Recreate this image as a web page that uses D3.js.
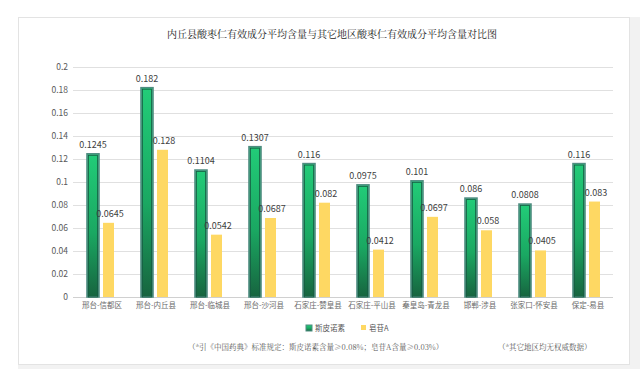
<!DOCTYPE html>
<html><head><meta charset="utf-8">
<script src="https://cdn.jsdelivr.net/npm/d3@7/dist/d3.min.js"></script>
<style>body{margin:0;background:#fff;}svg{display:block;}</style>
</head><body>
<script>
const categories = ["邢台-信都区","邢台-内丘县","邢台-临城县","邢台-沙河县","石家庄-赞皇县","石家庄-平山县","秦皇岛-青龙县","邯郸-涉县","张家口-怀安县","保定-易县"];
const spinosin = [0.1245,0.182,0.1104,0.1307,0.116,0.0975,0.101,0.086,0.0808,0.116];
const saponinA = [0.0645,0.128,0.0542,0.0687,0.082,0.0412,0.0697,0.058,0.0405,0.083];
const yTicks = [0,0.02,0.04,0.06,0.08,0.1,0.12,0.14,0.16,0.18,0.2];
const seriesNames = ["斯皮诺素","皂苷A"];
const title = "内丘县酸枣仁有效成分平均含量与其它地区酸枣仁有效成分平均含量对比图";
const note1 = "（*引《中国药典》标准规定：斯皮诺素含量≥0.08%；皂苷A含量≥0.03%）";
const note2 = "（*其它地区均无权威数据）";

const W=640,H=369;
const font = "'Noto Sans CJK SC','Noto Sans',sans-serif";
const svg = d3.select("body").append("svg").attr("width",W).attr("height",H);

// frame
svg.append("rect").attr("x",0).attr("y",0).attr("width",W).attr("height",H).attr("fill","#fff");
svg.append("rect").attr("x",630).attr("y",17).attr("width",10).attr("height",352).attr("fill","#f2f2f2");
svg.append("rect").attr("x",18).attr("y",365).attr("width",622).attr("height",4).attr("fill","#f2f2f2");
svg.append("rect").attr("x",18.5).attr("y",17.5).attr("width",611).attr("height",347)
  .attr("fill","#fff").attr("stroke","#e3e3e3").attr("stroke-width",1);

const defs = svg.append("defs");
const g1 = defs.append("linearGradient").attr("id","gGreen").attr("x1",0).attr("y1",0).attr("x2",0).attr("y2",1);
g1.append("stop").attr("offset","0%").attr("stop-color","#22cc78");
g1.append("stop").attr("offset","55%").attr("stop-color","#1aa862");
g1.append("stop").attr("offset","100%").attr("stop-color","#17643f");

svg.append("text").attr("x",332).attr("y",38).attr("text-anchor","middle")
  .attr("font-family","'Noto Serif CJK SC','Noto Sans CJK SC',serif").attr("font-size",10)
  .attr("fill","#1a1a1a").text(title);

const x0 = d3.scaleBand().domain(categories).range([73,613]).paddingInner(0).paddingOuter(0);
const y = d3.scaleLinear().domain([0,0.2]).range([297,67]);

// gridlines
svg.append("g").selectAll("line").data(yTicks.slice(1)).join("line")
  .attr("x1",73).attr("x2",613).attr("y1",d=>Math.round(y(d))+0.5).attr("y2",d=>Math.round(y(d))+0.5)
  .attr("stroke","#e0e0e0").attr("stroke-width",1);

// y axis labels
const yAxis = d3.axisLeft(y).tickValues(yTicks).tickSize(0).tickPadding(0).tickFormat(d=>String(+d.toFixed(2)));
const ya = svg.append("g").attr("transform","translate(68,0)").call(yAxis);
ya.select(".domain").remove();
ya.selectAll("text").attr("font-family",font).attr("font-size",8.5).attr("fill","#595959");

// x baseline
svg.append("line").attr("x1",73).attr("x2",613).attr("y1",297.5).attr("y2",297.5).attr("stroke","#d0d0d0");

// x axis labels
const xAxis = d3.axisBottom(x0).tickSize(0).tickPadding(0);
const xa = svg.append("g").attr("transform","translate(2,303)").call(xAxis);
xa.select(".domain").remove();
xa.selectAll("text").attr("font-family",font).attr("font-size",7.5).attr("fill","#6a6a6a");

const bw = 12;
const gG = svg.append("g");
categories.forEach((c,i)=>{
  const cx = x0(c) + x0.bandwidth()/2;
  const gx = cx - 13, yx = cx + 3;
  // green
  gG.append("rect").attr("x",gx).attr("y",y(spinosin[i])).attr("width",bw)
    .attr("height",y(0)-y(spinosin[i])).attr("fill","url(#gGreen)")
    .attr("stroke","#4f8c80").attr("stroke-width",1.6);
  gG.append("rect").attr("x",gx+1.5).attr("y",y(spinosin[i])+1.5).attr("width",bw-3)
    .attr("height",y(0)-y(spinosin[i])-1.5).attr("fill","none")
    .attr("stroke","#175c44").attr("stroke-width",0.8);
  // yellow
  gG.append("rect").attr("x",yx).attr("y",y(saponinA[i])).attr("width",bw-1)
    .attr("height",y(0)-y(saponinA[i])).attr("fill","#fed863");
  // labels
  gG.append("text").attr("x",gx+bw/2).attr("y",y(spinosin[i])-6).attr("text-anchor","middle")
    .attr("font-family",font).attr("font-size",9).attr("fill","#404040").text(spinosin[i]);
  gG.append("text").attr("x",yx+bw/2+1).attr("y",y(saponinA[i])-6).attr("text-anchor","middle")
    .attr("font-family",font).attr("font-size",9).attr("fill","#404040").text(saponinA[i]);
});

// legend
const lg = svg.append("g").attr("font-family",font).attr("font-size",7.5).attr("fill","#595959");
lg.append("rect").attr("x",306).attr("y",325).attr("width",6).attr("height",6).attr("fill","url(#gGreen)").attr("stroke","#4f8c80").attr("stroke-width",1);
lg.append("text").attr("x",315).attr("y",331).text(seriesNames[0]);
lg.append("rect").attr("x",361).attr("y",325).attr("width",5).attr("height",5).attr("fill","#fed863");
lg.append("text").attr("x",369).attr("y",331).text(seriesNames[1]);

// notes
svg.append("text").attr("x",188).attr("y",350).attr("font-family","'Noto Serif CJK SC','Noto Sans CJK SC',serif")
  .attr("font-size",7.5).attr("fill","#595959").text(note1);
svg.append("text").attr("x",498).attr("y",350).attr("font-family","'Noto Serif CJK SC','Noto Sans CJK SC',serif")
  .attr("font-size",7.5).attr("fill","#595959").text(note2);
</script>
</body></html>
